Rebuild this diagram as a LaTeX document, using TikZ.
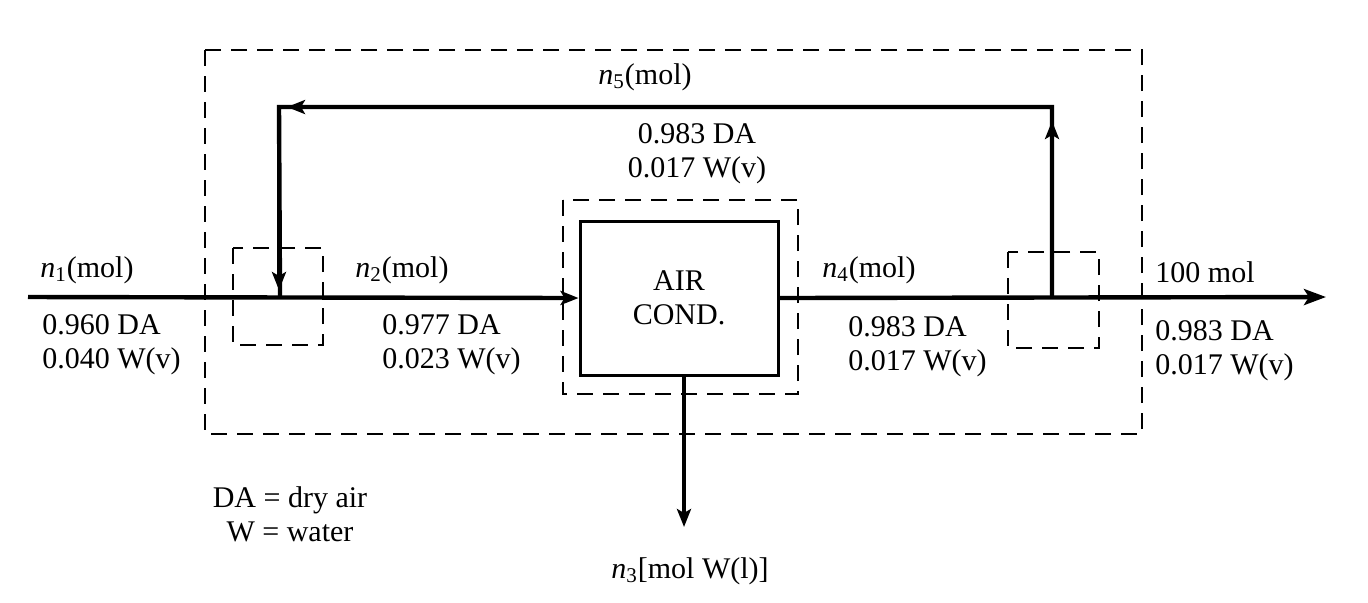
\documentclass[tikz,border=0pt]{standalone}
\usepackage{fontspec}
\setmainfont{Liberation Serif}
\usetikzlibrary{arrows.meta,positioning}
\tikzset{
  stream/.style={line width=2.2pt},
  env/.style={draw,line width=1.4pt,dash pattern=on 8pt off 5pt},
  lbl/.style={font=\fontsize{15}{17}\selectfont,inner sep=0pt,anchor=base west,align=left},
  tip/.style={-{Stealth[length=9pt,width=7pt,inset=2pt]}},
}
\begin{document}
\begin{tikzpicture}[x=0.5pt,y=-0.5pt]
		\useasboundingbox (0,0) rectangle (1368,602);
		%enveloppes
		\draw[env] (205,50) rectangle (1142,434);
		\draw[env] (563,200) rectangle (798,394);
		\draw[env] (233,248) rectangle (323,345);
		\draw[env] (1008,252) rectangle (1099,348);
		%unit
		\node[draw,line width=1.5pt,minimum width=99pt,minimum height=77pt,
			lbl,anchor=center,align=center] (cond) at (679,298) {AIR\\COND.};
		%points
		\coordinate (in) at (28,297);
		\coordinate (mix) at (280,297);
		\coordinate (split) at (1052,297);
		\coordinate (out) at (1326,297);
		\coordinate (drain) at (684,527);
		\coordinate (topR) at (1052,107);
		\coordinate (topL) at (279,107);
		\coordinate (up) at (1052,121);
		\coordinate (lt) at (287,107);
		\coordinate (dn) at (279,290);
		%streams
		\draw[stream,tip] (in) -- (cond.west);
		\draw[stream,-{Stealth[length=11pt,width=8pt,inset=2.5pt]}] (cond.east) -- (out);
		\draw[stream,tip] (cond.south -| drain) -- (drain);
		\draw[stream] (split) -- (topR) -- (topL) -- (mix);
		\draw[stream,tip] (split) -- (up);
		\draw[stream,tip] (topR) -- (lt);
		\draw[stream,tip] (topL) -- (dn);
		%labels
		\node[lbl] (n1) at (40,277) {\textit{n}\textsubscript{1}(mol)};
		\node[lbl] (x1) at (42,368) {0.960 DA\\0.040 W(v)};
		\node[lbl] (n2) at (355,277) {\textit{n}\textsubscript{2}(mol)};
		\node[lbl] (x2) at (382,368) {0.977 DA\\0.023 W(v)};
		\node[lbl] (n4) at (822,277) {\textit{n}\textsubscript{4}(mol)};
		\node[lbl] (x4) at (848,370) {0.983 DA\\0.017 W(v)};
		\node[lbl,anchor=base] (n5) at (645,84) {\textit{n}\textsubscript{5}(mol)};
		\node[lbl,anchor=base,align=center] (x5) at (697,177) {0.983 DA\\0.017 W(v)};
		\node[lbl] (nout) at (1155,282) {100 mol};
		\node[lbl] (xout) at (1155,374) {0.983 DA\\0.017 W(v)};
		\node[lbl,anchor=base] (n3) at (690,578) {\textit{n}\textsubscript{3}[mol W(l)]};
		\node[lbl,anchor=base,align=center] (key) at (290,541) {DA = dry air\\W = water};
	\end{tikzpicture}
\end{document}
